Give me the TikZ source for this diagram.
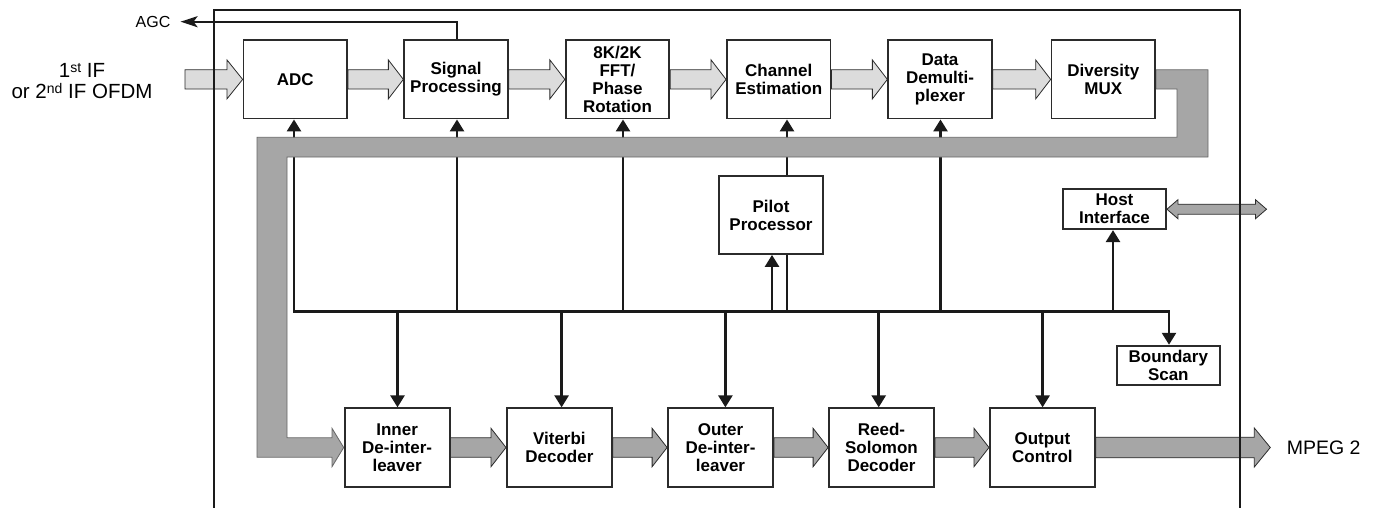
\documentclass[tikz,border=0pt]{standalone}
\usepackage{fontspec}
\setmainfont{Liberation Sans}
\usetikzlibrary{arrows.meta,calc}
\pgfdeclarelayer{bg}
\pgfsetlayers{bg,main}
\definecolor{lightfill}{HTML}{DCDCDC}
\definecolor{bandfill}{HTML}{A6A6A6}
\definecolor{edgec}{HTML}{2B2B2B}
\definecolor{linec}{HTML}{1A1A1A}
\newcommand{\blockarr}[6]{%
  \path[#1] let \p1=#2, \p2=#3 in
    (\x1,\y2+#4pt) -- (\x2-#6pt,\y2+#4pt) -- (\x2-#6pt,\y2+#5pt) -- (\x2,\y2)
    -- (\x2-#6pt,\y2-#5pt) -- (\x2-#6pt,\y2-#4pt) -- (\x1,\y2-#4pt) -- cycle;}
\begin{document}
\begin{tikzpicture}[x=1pt,y=-1pt,
  box/.style={draw=edgec, line width=1.8pt, fill=white, inner sep=0pt, align=center,
    font=\fontsize{17}{18}\selectfont\bfseries, minimum height=78.3pt, minimum width=103.5pt},
  bbox/.style={box, minimum width=105pt, minimum height=78.5pt},
  ctrl/.style={draw=linec, line width=2.6pt},
  tip/.style={-{Triangle[width=14pt,length=12pt]}},
  lightarr/.style={fill=lightfill, draw=edgec, line width=0.8pt},
  darkarr/.style={fill=bandfill, draw=edgec, line width=0.8pt},
  bandst/.style={fill=bandfill, draw=black!60, line width=0.8pt},
]
\useasboundingbox (0,0) rectangle (1375,507);

% top row
\node[box] (adc) at (295.3,79.4) {ADC};
\node[box] (sp) at (456,79.4) {Signal\\Processing};
\node[box] (fft) at (617.5,79.4) {8K/2K\\FFT/\\Phase\\Rotation};
\node[box] (ce) at (778.7,79.4) {Channel\\Estimation};
\node[box] (dd) at (940,79.4) {Data\\Demulti-\\plexer};
\node[box] (mux) at (1103.3,79.4) {Diversity\\MUX};
% middle
\node[box, minimum width=104pt, minimum height=78pt] (pilot) at (771,215) {Pilot\\Processor};
\node[box, minimum width=103pt, minimum height=40pt] (host) at (1114.5,209.2) {Host\\Interface};
\node[box, minimum width=103.4pt, minimum height=39.3pt] (bscan) at (1168.3,365.3) {Boundary\\Scan};
% bottom row
\node[bbox] (inner) at (397.1,447.5) {Inner\\De-inter-\\leaver};
\node[bbox] (vit) at (559.4,447.5) {Viterbi\\Decoder};
\node[bbox] (outer) at (720.5,447.5) {Outer\\De-inter-\\leaver};
\node[bbox] (rs) at (881.5,447.5) {Reed-\\Solomon\\Decoder};
\node[bbox] (oc) at (1042.4,447.5) {Output\\Control};

% labels
\node[font=\fontsize{16}{16}\selectfont, inner sep=0pt] (agc) at (153,21.7) {AGC};
\node[font=\fontsize{20.5}{21.7}\selectfont, align=center, inner sep=0pt] (inlab) at (82,81)
  {1\raisebox{5pt}{\fontsize{14}{14}\selectfont st} IF\\or 2\raisebox{5pt}{\fontsize{14}{14}\selectfont nd} IF OFDM};
\node[font=\fontsize{19.5}{20}\selectfont, inner sep=0pt, anchor=west] (mpeg) at (1286.6,448) {MPEG 2};

% coordinates
\coordinate (busL) at (294,311.7);
\coordinate (busR) at (1169,311.7);
\coordinate (tsp) at (457,311.7);
\coordinate (tfft) at (623,311.7);
\coordinate (tce) at (787,311.7);
\coordinate (tpa) at (772,311.7);
\coordinate (tdd) at (940.5,311.7);
\coordinate (thost) at (1113,311.7);
\coordinate (d1) at (397.5,311.7);
\coordinate (d2) at (561.6,311.7);
\coordinate (d3) at (725.4,311.7);
\coordinate (d4) at (878.7,311.7);
\coordinate (d5) at (1042.6,311.7);
\coordinate (instart) at (185,79.4);
\coordinate (mpegtip) at (1270.3,447.5);
\coordinate (hostR) at (1266.5,209.2);
\coordinate (agcc) at (457,21.7);

\begin{pgfonlayer}{bg}
  % control bus
  \draw[ctrl,{Triangle[width=14pt,length=12pt]}-{Triangle[width=14pt,length=12pt]}]
    (busL |- adc.south) -- (busL) -- (busR) -- (busR |- bscan.north);
  \draw[ctrl,tip] (tsp) -- (tsp |- sp.south);
  \draw[ctrl,tip] (tfft) -- (tfft |- fft.south);
  \draw[ctrl,tip] (tdd) -- (tdd |- dd.south);
  \draw[ctrl,tip] (tpa) -- (tpa |- pilot.south);
  \draw[ctrl] (tce) -- (tce |- pilot.south);
  \draw[ctrl,tip] (tce |- pilot.north) -- (tce |- ce.south);
  \draw[ctrl,tip] (thost) -- (thost |- host.south);
  \draw[ctrl,tip] (d1) -- (d1 |- inner.north);
  \draw[ctrl,tip] (d2) -- (d2 |- vit.north);
  \draw[ctrl,tip] (d3) -- (d3 |- outer.north);
  \draw[ctrl,tip] (d4) -- (d4 |- rs.north);
  \draw[ctrl,tip] (d5) -- (d5 |- oc.north);
  % data band from MUX back to inner de-interleaver
  \path[bandst] ($(mux.east)+(0,-9.65)$) -- (1208,69.75) -- (1208,157) -- (287,157)
    -- (287,437.8) -- (332,437.8) -- (332,428.3) -- (inner.west) -- (332,466.7)
    -- (332,457.2) -- (257,457.2) -- (257,137.3) -- (1177,137.3) -- (1177,89.05)
    -- ($(mux.east)+(0,9.65)$) -- cycle;
  % top light arrows
  \blockarr{lightarr}{(instart)}{(adc.west)}{9.65}{19.5}{15.7}
  \blockarr{lightarr}{(adc.east)}{(sp.west)}{9.65}{19.5}{15}
  \blockarr{lightarr}{(sp.east)}{(fft.west)}{9.65}{19.5}{15}
  \blockarr{lightarr}{(fft.east)}{(ce.west)}{9.65}{19.5}{15}
  \blockarr{lightarr}{(ce.east)}{(dd.west)}{9.65}{19.5}{15}
  \blockarr{lightarr}{(dd.east)}{(mux.west)}{9.65}{19.5}{15}
  % bottom dark arrows
  \blockarr{darkarr}{(inner.east)}{(vit.west)}{9.7}{19.2}{15}
  \blockarr{darkarr}{(vit.east)}{(outer.west)}{9.7}{19.2}{15}
  \blockarr{darkarr}{(outer.east)}{(rs.west)}{9.7}{19.2}{15}
  \blockarr{darkarr}{(rs.east)}{(oc.west)}{9.7}{19.2}{15}
  \blockarr{darkarr}{(oc.east)}{(mpegtip)}{10.3}{19.5}{16}
  % host double arrow
  \path[darkarr] let \p1=(host.east), \p2=(hostR) in
    (\x1,\y1) -- (\x1+11pt,\y1+9.5pt) -- (\x1+11pt,\y1+5pt) -- (\x2-11pt,\y1+5pt)
    -- (\x2-11pt,\y1+9.5pt) -- (\x2,\y1) -- (\x2-11pt,\y1-9.5pt) -- (\x2-11pt,\y1-5pt)
    -- (\x1+11pt,\y1-5pt) -- (\x1+11pt,\y1-9.5pt) -- cycle;
  % AGC
  \draw[draw=linec, line width=2.2pt, -{Stealth[length=17pt,width=11pt,inset=4pt]}]
    (agcc |- sp.north) -- (agcc) -- ([xshift=10pt]agc.east);
\end{pgfonlayer}

% outer frame
\draw[draw=linec, line width=2pt] (214,512) -- (214,10) -- (1240,10) -- (1240,512);
\end{tikzpicture}
\end{document}
